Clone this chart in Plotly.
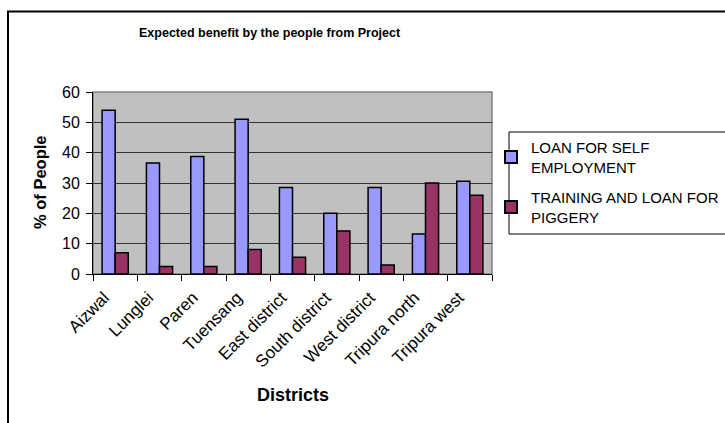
import plotly.graph_objects as go

districts = ["Aizwal", "Lunglei", "Paren", "Tuensang", "East district",
             "South district", "West district", "Tripura north", "Tripura west"]
loan_self_employment = [54, 36.6, 38.7, 51, 28.5, 20, 28.5, 13.2, 30.6]
training_loan_piggery = [7, 2.5, 2.5, 8.1, 5.5, 14.2, 3, 30, 26]
series_names = ["LOAN FOR SELF<br>EMPLOYMENT", "TRAINING AND LOAN FOR<br>PIGGERY"]
y_ticks = [0, 10, 20, 30, 40, 50, 60]

FONT = "Liberation Sans, Arial, sans-serif"
W, H = 725, 423
L, R, T, B = 93, 492, 92, 274

fig = go.Figure()
fig.add_bar(x=districts, y=loan_self_employment, name=series_names[0],
            legendgroup="a",
            marker=dict(color="#9999FF", line=dict(color="black", width=1.5)))
fig.add_bar(x=districts, y=training_loan_piggery, name=series_names[1],
            legendgroup="b",
            marker=dict(color="#993366", line=dict(color="black", width=1.5)))

pw, ph = R - L, B - T
def px(x): return (x - L) / pw
def py(y): return (B - y) / ph

fig.update_layout(
    width=W, height=H,
    margin=dict(l=L, r=W - R, t=T, b=H - B, pad=0, autoexpand=False),
    paper_bgcolor="white", plot_bgcolor="#C0C0C0",
    font=dict(family=FONT, color="black", size=12),
    barmode="group", bargap=0.41, bargroupgap=0,
    xaxis=dict(showline=True, linecolor="black", linewidth=1,
               ticks="outside", ticklen=6, tickcolor="black",
               tickson="boundaries", tickangle=-45,
               ticklabelshift=-11, ticklabelstandoff=6,
               tickfont=dict(size=17, family=FONT), showgrid=False),
    yaxis=dict(range=[0, 60], tickvals=y_ticks, showline=True, linecolor="black",
               linewidth=1, ticks="outside", ticklen=6, tickcolor="black",
               ticklabelstandoff=3,
               showgrid=True, gridcolor="#333333", gridwidth=1, zeroline=False,
               tickfont=dict(size=16, family=FONT)),
    legend=dict(x=px(491), y=py(131), xanchor="left", yanchor="top",
                bgcolor="rgba(0,0,0,0)", borderwidth=0,
                font=dict(size=15, family=FONT), tracegroupgap=8,
                itemsizing="constant"),
    showlegend=True,
    shapes=[
        dict(type="rect", xref="paper", yref="paper", x0=0, x1=1, y0=0, y1=1,
             line=dict(color="#808080", width=1.5), layer="below"),
        dict(type="rect", xref="paper", yref="paper",
             x0=px(509), x1=px(760), y0=py(234), y1=py(132),
             line=dict(color="black", width=1), fillcolor="white", layer="below"),
        dict(type="rect", xref="paper", yref="paper",
             x0=px(8), x1=px(740), y0=py(440), y1=py(11.5),
             line=dict(color="black", width=2)),
    ],
    annotations=[
        dict(text="<b>Expected benefit by the people from Project</b>",
             xref="paper", yref="paper", x=px(270), y=py(33),
             xanchor="center", yanchor="middle", showarrow=False,
             font=dict(size=12.5, family=FONT)),
        dict(text="<b>% of People</b>", xref="paper", yref="paper",
             x=px(40), y=py(182), xanchor="center", yanchor="middle",
             textangle=-90, showarrow=False, font=dict(size=16.5, family=FONT)),
        dict(text="<b>Districts</b>", xref="paper", yref="paper",
             x=px(293), y=py(395), xanchor="center", yanchor="middle",
             showarrow=False, font=dict(size=18, family=FONT)),
    ],
)

fig.write_html("out.html", config={"displayModeBar": False},
               post_script="document.body.style.margin='0';document.body.style.overflow='hidden';")
